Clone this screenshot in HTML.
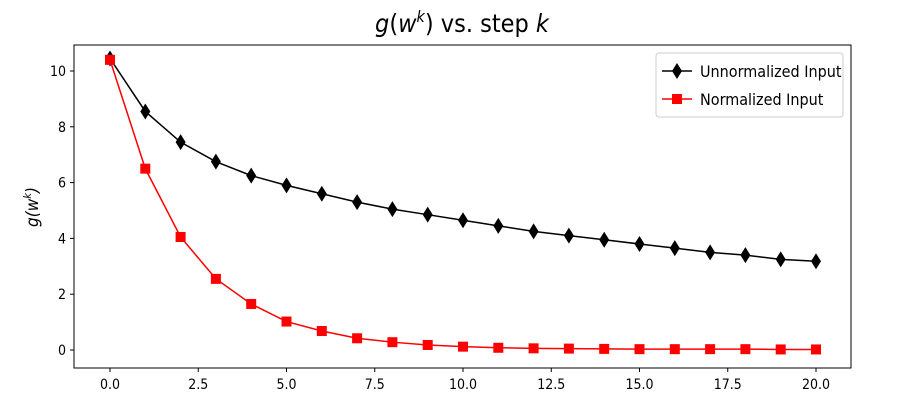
<!DOCTYPE html>
<html><head><meta charset="utf-8"><style>
body{margin:0;background:#fff;}
svg text{font-family:"Liberation Sans Narrow","DejaVu Sans Condensed","Liberation Sans",sans-serif;}
</style></head><body>
<svg id="chart" width="904" height="400" xmlns="http://www.w3.org/2000/svg">
<text x="462" y="32" font-size="25" text-anchor="middle"><tspan font-style="italic">g</tspan>(<tspan font-style="italic">w</tspan><tspan font-size="16" dy="-10" font-style="italic">k</tspan><tspan dy="10">) vs. step </tspan><tspan font-style="italic">k</tspan></text>
<rect x="74" y="45" width="777" height="323" fill="none" stroke="#000" stroke-width="1"/>
<text transform="translate(38,207) rotate(-90)" font-size="17" text-anchor="middle" font-style="italic">g(w<tspan font-size="11" dy="-7">k</tspan><tspan dy="7">)</tspan></text>
<g id="axes"></g>
<g id="series"></g>
<g>
<rect x="656" y="53" width="187" height="64" fill="#fff" stroke="#ccc" rx="3"/>
<g>
<line x1="662" y1="71" x2="692" y2="71" stroke="#000" stroke-width="1.5"/>
<path d="M677 63 L682 71 L677 79 L672 71 Z" fill="#000"/>
<text x="700" y="77" font-size="16">Unnormalized Input</text></g>
<g>
<line x1="662" y1="99" x2="692" y2="99" stroke="red" stroke-width="1.5"/>
<rect x="672" y="94" width="10" height="10" fill="red"/>
<text x="700" y="105" font-size="16">Normalized Input</text></g>
</g>
</svg>
<script>
const steps=[0,1,2,3,4,5,6,7,8,9,10,11,12,13,14,15,16,17,18,19,20];
const unnormalized=[10.45,8.55,7.45,6.75,6.25,5.9,5.6,5.3,5.05,4.85,4.65,4.45,4.25,4.1,3.95,3.8,3.65,3.5,3.4,3.25,3.18];
const normalized=[10.4,6.5,4.05,2.55,1.65,1.02,0.68,0.42,0.28,0.18,0.12,0.08,0.06,0.05,0.04,0.03,0.03,0.03,0.03,0.02,0.02];
const xTicks=[0,2.5,5,7.5,10,12.5,15,17.5,20];
const xTickLabels=["0.0","2.5","5.0","7.5","10.0","12.5","15.0","17.5","20.0"];
const yTicks=[0,2,4,6,8,10];
const yTickLabels=["0","2","4","6","8","10"];
const NS="http://www.w3.org/2000/svg";
const X=v=>110+v*(816-110)/20;
const Y=v=>350-v*(350-71)/10;
function mk(tag,attrs,parent){const e=document.createElementNS(NS,tag);for(const k in attrs)e.setAttribute(k,attrs[k]);parent.appendChild(e);return e;}
const axes=document.getElementById('axes');
xTicks.forEach((t,i)=>{
 const l=mk('line',{x1:X(t),x2:X(t),y1:368,y2:372,stroke:'#000'},axes);
 
 
 const tx=mk('text',{x:X(t),y:389,'font-size':14,'text-anchor':'middle'},axes);
 tx.textContent=xTickLabels[i];
 
 
});
yTicks.forEach((t,i)=>{
 const l=mk('line',{x1:70,x2:74,y1:Y(t),y2:Y(t),stroke:'#000'},axes);
 
 
 const tx=mk('text',{x:66,y:Y(t)+5,'font-size':14,'text-anchor':'end'},axes);
 tx.textContent=yTickLabels[i];
 
 
});
const sg=document.getElementById('series');
function series(vals,color,marker,name){
 const g=mk('g',{},sg);
 
 
 const p=mk('polyline',{points:vals.map((v,i)=>X(steps[i])+','+Y(v)).join(' '),fill:'none',stroke:color,'stroke-width':1.5},g);
 
 
 vals.forEach((v,i)=>{
  const x=X(steps[i]),y=Y(v);let m;
  if(marker==='d')m=mk('path',{d:`M${x} ${y-8} L${x+5} ${y} L${x} ${y+8} L${x-5} ${y} Z`,fill:color},g);
  else m=mk('rect',{x:x-5,y:y-5,width:10,height:10,fill:color},g);
  
  
 });
}
series(unnormalized,'#000','d','unnormalized-series');
series(normalized,'red','s','normalized-series');
</script>
</body></html>
